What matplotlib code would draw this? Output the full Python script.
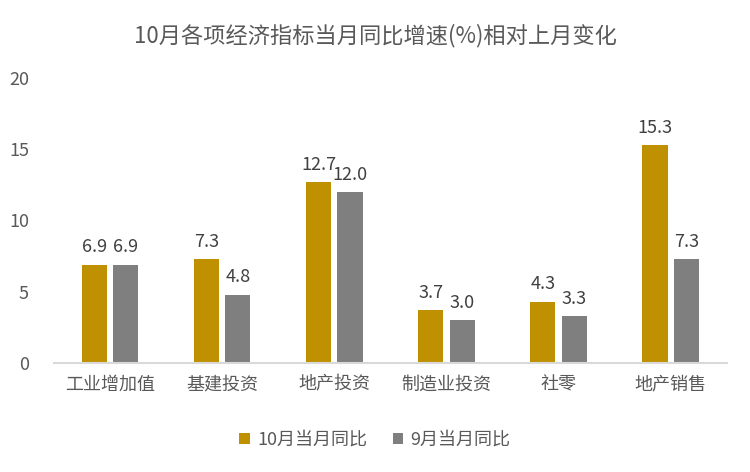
import numpy as np
import matplotlib
matplotlib.use("Agg")
import matplotlib.pyplot as plt

plt.rcParams['font.family'] = ['Noto Sans CJK SC', 'DejaVu Sans']

categories = ["工业增加值", "基建投资", "地产投资", "制造业投资", "社零", "地产销售"]
oct_yoy = [6.9, 7.3, 12.7, 3.7, 4.3, 15.3]
sep_yoy = [6.9, 4.8, 12.0, 3.0, 3.3, 7.3]
series_names = ["10月当月同比", "9月当月同比"]

gold = "#BF9000"
gray = "#7F7F7F"
text_col = "#595959"

fig = plt.figure(figsize=(7.5, 4.72), dpi=100)
ax = fig.add_axes([0.072, 0.231, 0.897, 0.604])

x = np.arange(len(categories))
w = 0.225
off = 0.14
b1 = ax.bar(x - off, oct_yoy, w, color=gold, label=series_names[0])
b2 = ax.bar(x + off, sep_yoy, w, color=gray, label=series_names[1])

for bars in (b1, b2):
    for r in bars:
        ax.annotate(f"{r.get_height():.1f}", (r.get_x() + r.get_width() / 2, r.get_height()),
                    xytext=(0, 6), textcoords="offset points", ha="center", va="bottom",
                    fontsize=13, color="#404040")

ax.set_xlim(-0.5, len(categories) - 0.5)
ax.set_ylim(0, 20)
ax.set_yticks([0, 5, 10, 15, 20])
ax.set_xticks(x)
ax.set_xticklabels(categories)
ax.tick_params(axis="both", length=0, labelsize=13, colors=text_col)
ax.tick_params(axis="x", pad=9)
ax.tick_params(axis="y", pad=18)
for s in ("top", "right", "left"):
    ax.spines[s].set_visible(False)
ax.spines["bottom"].set_color("#D9D9D9")
ax.spines["bottom"].set_linewidth(1.5)

fig.suptitle("10月各项经济指标当月同比增速(%)相对上月变化", y=0.95, fontsize=16, color=text_col)
fig.legend(loc="center", bbox_to_anchor=(0.5, 0.068), ncol=2, frameon=False, fontsize=13,
           handlelength=0.6, handleheight=0.6, handletextpad=0.4, columnspacing=1.4,
           labelcolor=text_col)

fig.savefig("out.png", dpi=100)
